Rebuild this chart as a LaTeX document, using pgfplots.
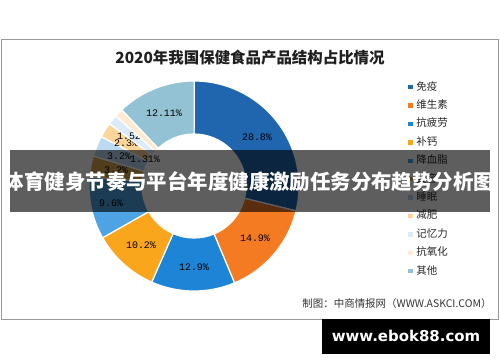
\documentclass[border=0pt]{standalone}
\usepackage{pgfplots}
\usepackage{pgfplotstable}
\pgfplotsset{compat=1.18}
\usepackage{fontspec}
\setmainfont{Liberation Sans}
\newfontfamily\cjk{Noto Sans CJK SC}
\newfontfamily\mono{Liberation Mono}
\newfontfamily\dejab{DejaVu Sans}

\definecolor{c1}{HTML}{1F66AE}
\definecolor{c2}{HTML}{F57B22}
\definecolor{c3}{HTML}{1E84D5}
\definecolor{c4}{HTML}{F9A61C}
\definecolor{c5}{HTML}{4EA3E5}
\definecolor{c6}{HTML}{D9A852}
\definecolor{c7}{HTML}{BCD9F2}
\definecolor{c8}{HTML}{FCD59A}
\definecolor{c9}{HTML}{DCEBF8}
\definecolor{c10}{HTML}{FDEBD2}
\definecolor{c11}{HTML}{93C2D5}

% name, share (%), colour, label position (px)
\pgfplotstableread[col sep=comma]{
name,value,color,lx,ly
免疫,28.8,c1,257,137
维生素,14.9,c2,255,238
抗疲劳,12.9,c3,194,267
补钙,10.2,c4,141,245
降血脂,9.6,c5,111,203
美容,3.2,c6,116,170
睡眠,3.2,c7,119,156
减肥,2.3,c8,126,143
记忆力,1.52,c9,132,136
抗氧化,1.31,c10,145,159
其他,12.11,c11,164,113
}\piedata

\begin{document}
\begin{tikzpicture}
\begin{axis}[
  scale only axis, width=500bp, height=362bp,
  xmin=0, xmax=500, ymin=0, ymax=362, y dir=reverse,
  hide axis, clip=false,
  legend style={draw=none, fill=none, at={(0.81,0.782)}, anchor=north west,
    font=\cjk\fontsize{10.5}{12}\selectfont, row sep=6.9bp, text=black!85,
    nodes={inner sep=0pt, text height=9bp, text depth=2.5bp},
    /tikz/every odd column/.append style={column sep=4.5bp}},
  legend cell align=left,
]
\path (rel axis cs:0,0) rectangle (rel axis cs:1,1);
\draw[black!40, line width=0.8bp] (axis cs:1,39.5) rectangle (axis cs:498.5,319);
\node[text=black!88] at (axis cs:250,58) {\cjk\bfseries\fontsize{15.5}{15.5}\selectfont 2020年我国保健食品产品结构占比情况};
\node[anchor=east, text=black!80] at (axis cs:495,304) {\cjk\fontsize{10.5}{10.5}\selectfont 制图：中商情报网（WWW.ASKCI.COM）};
\coordinate (B1) at (axis cs:10,150);
\coordinate (B2) at (axis cs:490,212);
\coordinate (BT) at (axis cs:249,182);
\coordinate (K1) at (axis cs:322,319);
\coordinate (K2) at (axis cs:490,354);
\coordinate (KT) at (axis cs:406,336);

\pgfplotstablegetrowsof{\piedata}
\pgfmathtruncatemacro\nrows{\pgfplotsretval-1}
\def\cumsum{0}
\pgfplotsforeachungrouped \i in {0,...,\nrows}{%
  \pgfplotstablegetelem{\i}{value}\of\piedata \let\v\pgfplotsretval
  \pgfplotstablegetelem{\i}{color}\of\piedata \let\col\pgfplotsretval
  \pgfplotstablegetelem{\i}{name}\of\piedata \let\nm\pgfplotsretval
  \pgfplotstablegetelem{\i}{lx}\of\piedata \let\lx\pgfplotsretval
  \pgfplotstablegetelem{\i}{ly}\of\piedata \let\ly\pgfplotsretval
  \pgfmathsetmacro\a{-90+3.6*\cumsum}
  \pgfmathsetmacro\b{-90+3.6*(\cumsum+\v)}
  \pgfmathsetmacro\cumsum{\cumsum+\v}
  \pgfmathsetmacro\na{-\a}
  \pgfmathsetmacro\nb{-\b}
  \pgfmathsetmacro\xa{194+105*cos(\a)}
  \pgfmathsetmacro\ya{186+105*sin(\a)}
  \pgfmathsetmacro\xb{194+52*cos(\b)}
  \pgfmathsetmacro\yb{186+52*sin(\b)}
  \edef\temp{%
    \noexpand\fill[\col, draw=white, line width=1.2bp] (axis cs:\xa,\ya)
      arc[start angle=\na, end angle=\nb, radius=105bp] -- (axis cs:\xb,\yb)
      arc[start angle=\nb, end angle=\na, radius=52bp] -- cycle;
    \noexpand\node[inner sep=0pt] at (axis cs:\lx,\ly) {\noexpand\mono\noexpand\fontsize{10}{10}\noexpand\selectfont \v\noexpand\%};
    \noexpand\addlegendimage{legend image code/.code={\noexpand\fill[\col] (0bp,-1.7bp) rectangle (3.4bp,1.7bp);}}
    \noexpand\addlegendentry{\nm}
  }%
  \temp
}
\end{axis}
\fill[black, opacity=0.63] (B1) rectangle (B2);
\node[text=white] at (BT) {\cjk\bfseries\fontsize{20.5}{20.5}\selectfont 体育健身节奏与平台年度健康激励任务分布趋势分析图};
\fill[black] (K1) rectangle (K2);
\node[text=white] at (KT) {\dejab\bfseries\fontsize{15}{15}\selectfont www.ebok88.com};
\end{tikzpicture}
\end{document}
